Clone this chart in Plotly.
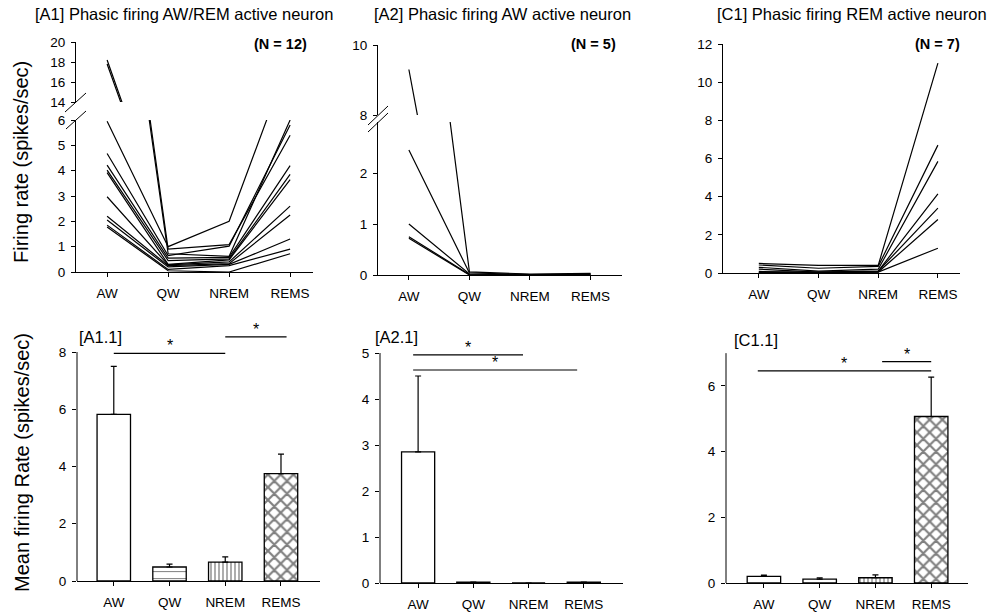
import plotly.graph_objects as go

# ---------------- data ----------------
categories = ["AW", "QW", "NREM", "REMS"]

# [A1] individual neurons (N = 12)
a1_aw   = [18.2, 17.8, 5.95, 4.68, 4.22, 4.02, 3.92, 2.97, 2.20, 2.05, 1.85, 1.78]
a1_qw   = [0.90, 0.72, 1.00, 0.65, 0.55, 0.45, 0.30, 0.28, 0.25, 0.20, 0.10, 0.05]
a1_nrem = [1.08, 0.62, 2.00, 1.02, 0.58, 0.52, 0.48, 0.40, 0.33, 0.30, 0.25, 0.00]
a1_rems = [5.40, 6.00, 8.50, 5.80, 4.20, 3.85, 3.65, 2.60, 2.25, 1.30, 0.90, 0.72]

# [A2] individual neurons (N = 5)
a2_aw   = [9.30, 2.45, 1.00, 0.75, 0.72]
a2_qw   = [0.06, 0.04, 0.02, 0.01, 0.00]
a2_nrem = [0.02, 0.01, 0.00, 0.00, 0.00]
a2_rems = [0.03, 0.02, 0.02, 0.01, 0.00]

# [C1] individual neurons (N = 7)
c1_aw   = [0.50, 0.42, 0.30, 0.20, 0.08, 0.03, 0.02]
c1_qw   = [0.40, 0.25, 0.10, 0.05, 0.05, 0.02, 0.01]
c1_nrem = [0.40, 0.35, 0.20, 0.10, 0.10, 0.05, 0.05]
c1_rems = [11.0, 6.70, 5.85, 4.15, 3.40, 2.80, 1.30]

# mean firing rate bars (+ upper SEM)
a11_mean = [5.82, 0.49, 0.66, 3.75]
a11_err  = [1.68, 0.10, 0.18, 0.68]
a21_mean = [2.85, 0.02, 0.00, 0.02]
a21_err  = [1.65, 0.00, 0.00, 0.00]
c11_mean = [0.20, 0.12, 0.16, 5.07]
c11_err  = [0.04, 0.04, 0.09, 1.20]

# significance brackets: (start category pos, end category pos, y)
a11_sig = [(0.0, 2.0, 7.95), (2.0, 3.1, 8.53)]
a21_sig = [(-0.09, 1.9, 4.96), (-0.09, 2.88, 4.63)]
c11_sig = [(-0.11, 3.0, 6.46), (2.12, 3.0, 6.74)]

panel_titles = ["[A1] Phasic firing AW/REM active neuron",
                "[A2] Phasic firing AW active neuron",
                "[C1] Phasic firing REM active neuron"]
n_labels = ["(N = 12)", "(N = 5)", "(N = 7)"]
bar_labels = ["[A1.1]", "[A2.1]", "[C1.1]"]

# ---------------- layout helpers ----------------
W, H = 995, 613
FONT = "Liberation Sans, Arial, sans-serif"


def fx(p):
    return p / W


def fy(p):
    return 1 - p / H


fig = go.Figure()

line_style = dict(color="black", width=1.2)


def add_neurons(aw, qw, nrem, rems, xa, yas):
    for vals in zip(aw, qw, nrem, rems):
        for ya in yas:
            fig.add_trace(go.Scatter(x=categories, y=list(vals), mode="lines",
                                     line=line_style, xaxis=xa, yaxis=ya,
                                     showlegend=False, hoverinfo="skip"))


add_neurons(a1_aw, a1_qw, a1_nrem, a1_rems, "x", ["y", "y2"])
add_neurons(a2_aw, a2_qw, a2_nrem, a2_rems, "x2", ["y3", "y4"])
add_neurons(c1_aw, c1_qw, c1_nrem, c1_rems, "x3", ["y5"])

pat_shapes = ["", "-", "|", "x"]
pat_sizes = [8, 7, 4, 9]
pat_sol = [0.1, 0.15, 0.32, 0.42]


def add_bars(mean, err, xa, ya):
    fig.add_trace(go.Bar(
        x=categories, y=mean, xaxis=xa, yaxis=ya, showlegend=False,
        marker=dict(color="white", line=dict(color="black", width=1.3),
                    pattern=dict(shape=pat_shapes, fgcolor="black", bgcolor="white",
                                 size=pat_sizes, solidity=pat_sol, fillmode="overlay")),
        error_y=dict(type="data", array=err, arrayminus=[0] * len(err), symmetric=False,
                     color="black", thickness=1.2, width=3),
        hoverinfo="skip"))


add_bars(a11_mean, a11_err, "x4", "y6")
add_bars(a21_mean, a21_err, "x5", "y7")
add_bars(c11_mean, c11_err, "x6", "y8")

tickfont = dict(family=FONT, size=13.5, color="black")


def xax(dom, rng, anchor):
    return dict(type="category", categoryorder="array", categoryarray=categories,
                domain=[fx(dom[0]), fx(dom[1])], range=rng, anchor=anchor,
                showline=True, linecolor="black", linewidth=1, ticks="outside",
                ticklen=4, tickcolor="black", tickwidth=1, showgrid=False,
                zeroline=False, tickfont=tickfont, ticklabelstandoff=5,
                automargin=False, fixedrange=True)


def yax(dom, rng, anchor, tickvals, showline=True):
    return dict(domain=[fy(dom[0]), fy(dom[1])], range=rng, anchor=anchor,
                showline=showline, linecolor="black", linewidth=1, ticks="outside",
                ticklen=4, tickcolor="black", tickwidth=1, showgrid=False,
                zeroline=False, tickvals=tickvals, tickfont=tickfont,
                ticklabelstandoff=3, automargin=False, fixedrange=True)


layout = dict(
    template="none",
    width=W, height=H, margin=dict(l=0, r=0, t=0, b=0, pad=0, autoexpand=False),
    autosize=False,
    paper_bgcolor="white", plot_bgcolor="white", bargap=0.4,
    font=dict(family=FONT, color="black"), showlegend=False,
    xaxis=xax((76, 313), [-0.51, 3.375], "y"),
    yaxis=yax((272, 120), [0, 6], "x", [0, 1, 2, 3, 4, 5, 6]),
    yaxis2=yax((102, 42), [14, 20], "x", [14, 16, 18, 20]),
    xaxis2=xax((378, 622), [-0.51, 3.52], "y3"),
    yaxis3=yax((275, 122), [0, 3], "x2", [0, 1, 2]),
    yaxis4=yax((115, 45), [8, 10], "x2", [8, 10]),
    xaxis3=xax((723, 960), [-0.6, 3.37], "y5"),
    yaxis5=yax((273, 44), [0, 12], "x3", [0, 2, 4, 6, 8, 10, 12]),
    xaxis4=xax((77, 320), [-0.66, 3.7], "y6"),
    yaxis6=yax((581, 309.1), [0, 9.5], "x4", [0, 2, 4, 6, 8], showline=False),
    xaxis5=xax((380, 623), [-0.69, 3.71], "y7"),
    yaxis7=yax((583, 334.6), [0, 5.4], "x5", [0, 1, 2, 3, 4, 5], showline=False),
    xaxis6=xax((726, 968), [-0.68, 3.66], "y8"),
    yaxis8=yax((583, 343.3), [0, 7.3], "x6", [0, 2, 4, 6], showline=False),
)
fig.update_layout(**layout)

# y axis lines for bar panels (only up to top tick)
for xa, ya, top in [("x4", "y6", 8), ("x5", "y7", 5), ("x6", "y8", 7)]:
    fig.add_shape(type="line", xref=f"{xa} domain", yref=ya, x0=0, x1=0, y0=0, y1=top,
                  line=dict(color="black", width=1))

# significance brackets and stars
for xa, ya, sig in [("x4", "y6", a11_sig), ("x5", "y7", a21_sig), ("x6", "y8", c11_sig)]:
    for x0, x1, yv in sig:
        fig.add_shape(type="line", xref=xa, yref=ya, x0=x0, x1=x1, y0=yv, y1=yv,
                      line=dict(color="black", width=1.2))
        fig.add_annotation(x=(x0 + x1) / 2, y=yv, xref=xa, yref=ya, text="*",
                           showarrow=False, yanchor="bottom", yshift=-3,
                           font=dict(family=FONT, size=16, color="black"))

# axis break marks
for (xa0, ya0, xa1, ya1) in [(65, 112, 86, 93), (66, 129, 86, 111),
                             (368, 125, 388, 106), (368, 132, 388, 113)]:
    fig.add_shape(type="line", xref="paper", yref="paper", x0=fx(xa0), y0=fy(ya0),
                  x1=fx(xa1), y1=fy(ya1), line=dict(color="black", width=1))

# panel titles
for txt, xl in zip(panel_titles, [33, 372, 715]):
    fig.add_annotation(text=txt, x=fx(xl), y=fy(14), xref="paper", yref="paper",
                       xanchor="left", yanchor="middle", showarrow=False,
                       font=dict(family=FONT, size=16.5, color="black"))
for txt, xc in zip(n_labels, [280, 593, 937]):
    fig.add_annotation(text=f"<b>{txt}</b>", x=fx(xc), y=fy(44), xref="paper", yref="paper",
                       xanchor="center", yanchor="middle", showarrow=False,
                       font=dict(family=FONT, size=14.5, color="black"))
for txt, xl, yc in zip(bar_labels, [77, 373, 732], [337, 337, 340]):
    fig.add_annotation(text=txt, x=fx(xl), y=fy(yc), xref="paper", yref="paper",
                       xanchor="left", yanchor="middle", showarrow=False,
                       font=dict(family=FONT, size=16.5, color="black"))

# y axis titles
fig.add_annotation(text="Firing rate (spikes/sec)", x=fx(21), y=fy(162), xref="paper",
                   yref="paper", textangle=-90, showarrow=False, xanchor="center",
                   yanchor="middle", font=dict(family=FONT, size=20, color="black"))
fig.add_annotation(text="Mean firing Rate (spikes/sec)", x=fx(22), y=fy(463), xref="paper",
                   yref="paper", textangle=-90, showarrow=False, xanchor="center",
                   yanchor="middle", font=dict(family=FONT, size=20, color="black"))

fig.write_html("out.html", config={"displayModeBar": False},
               post_script="document.body.style.margin='0px';document.body.style.overflow='hidden';")
